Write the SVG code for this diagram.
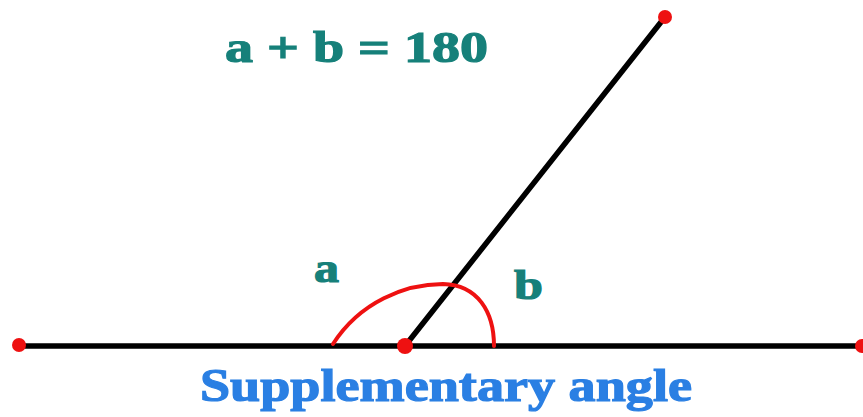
<svg xmlns="http://www.w3.org/2000/svg" width="863" height="417" viewBox="0 0 863 417">
<style>
.teal{font-family:"Liberation Serif","DejaVu Serif",serif;font-weight:bold;fill:#16807a;stroke:#16807a;stroke-width:1.2}
.blue{font-family:"Liberation Serif","DejaVu Serif",serif;font-weight:bold;fill:#2a7fe3;stroke:#2a7fe3;stroke-width:1.2}
.ln{stroke:#000;stroke-width:5.5;stroke-linecap:round;fill:none}
.arc{stroke:#ee1111;stroke-width:4;fill:none;stroke-linecap:round}
.dot{fill:#ee1111}
</style>
<rect width="863" height="417" fill="#fff"/>
<g id="connectors">
<line class="ln" x1="19" y1="346" x2="860" y2="346"/>
<line class="ln" x1="405" y1="346" x2="665" y2="17"/>
<path class="arc" d="M333,344 C360,302 405,284 443,284 C478,285 494,312 494,346"/>
</g>
<g id="point-left"><circle class="dot" cx="19" cy="345" r="7"/></g>
<g id="point-right"><circle class="dot" cx="862" cy="346" r="7"/></g>
<g id="vertex"><circle class="dot" cx="405" cy="346" r="8"/></g>
<g id="point-top"><circle class="dot" cx="665" cy="17" r="7"/></g>
<g id="labels">
<text class="teal" x="225" y="62" font-size="44" textLength="263" lengthAdjust="spacingAndGlyphs">a + b = 180</text>
<text class="teal" x="314" y="282" font-size="42" textLength="25" lengthAdjust="spacingAndGlyphs">a</text>
<text class="teal" x="514" y="299" font-size="42" textLength="29" lengthAdjust="spacingAndGlyphs">b</text>
<text class="blue" x="200" y="401" font-size="46" textLength="492" lengthAdjust="spacingAndGlyphs">Supplementary angle</text>
</g>
</svg>
